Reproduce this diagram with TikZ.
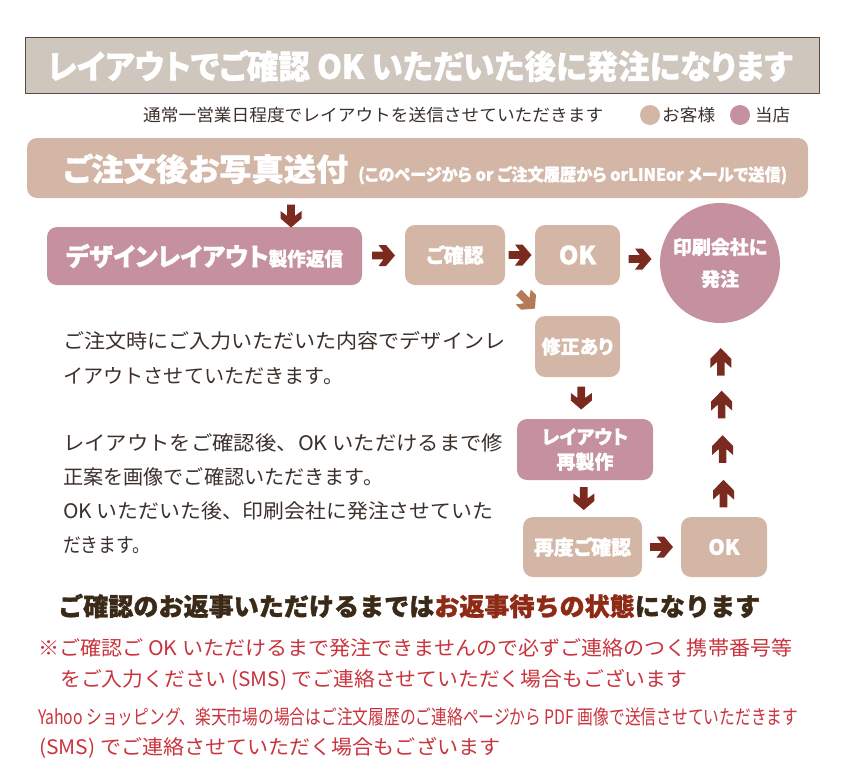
\documentclass[tikz,border=0pt]{standalone}
\usepackage{fontspec}
\setmainfont{Noto Sans CJK JP}
\newfontfamily\jpp{Noto Sans CJK JP}[RawFeature=+palt, BoldFeatures={FakeBold=1.2}]
\newfontfamily\jph{Noto Sans CJK JP}[BoldFeatures={FakeBold=1.2}]
\usetikzlibrary{calc}
\definecolor{titlefill}{HTML}{CFC6BD}
\definecolor{titleborder}{HTML}{5B4A42}
\definecolor{beige}{HTML}{D3B6A6}
\definecolor{pinkc}{HTML}{C5919F}
\definecolor{arrdark}{HTML}{7A2A1F}
\definecolor{arrlight}{HTML}{B47B5B}
\definecolor{textdark}{HTML}{3C302B}
\definecolor{boldbrown}{HTML}{3B2A18}
\definecolor{boldred}{HTML}{8E2B17}
\definecolor{redtext}{HTML}{C9333D}
\newcommand\fitw[2]{\resizebox{#1}{\height}{#2}}
\newcommand\fs[1]{\fontsize{#1}{#1}\selectfont}
\begin{document}
\begin{tikzpicture}[x=1pt,y=-1pt,
  flowbox/.style={rounded corners=10pt, inner sep=0pt, text=white, font=\jpp\bfseries},
  txt/.style={inner sep=0pt, anchor=west},
  pics/blockarr/.style={code={\fill (-11.5,-3.8) -- (0,-3.8) -- (-5,-10.5) -- (2.5,-10.5) -- (11.5,0) -- (2.5,10.5) -- (-5,10.5) -- (0,3.8) -- (-11.5,3.8) -- cycle;}}
]
\useasboundingbox (0,0) rectangle (842,779);

% title banner
\node[draw=titleborder, line width=0.8pt, fill=titlefill, minimum width=794, minimum height=56, inner sep=0pt] (title) at (422,65) {};
\node[inner sep=0pt, text=white] (titletxt) at (420,66) {\fitw{745pt}{\jpp\fs{33}\bfseries レイアウトでご確認 OK いただいた後に発注になります}};

% subtitle and legend
\node[txt, text=textdark] (sub) at (143,115) {\fitw{460pt}{\fs{17}通常一営業日程度でレイアウトを送信させていただきます}};
\node[circle, fill=beige, minimum size=20, inner sep=0pt] (lc1) at (650,115) {};
\node[txt, text=textdark] (lt1) at (662,115) {\fitw{53pt}{\fs{17}お客様}};
\node[circle, fill=pinkc, minimum size=20, inner sep=0pt] (lc2) at (740,115) {};
\node[txt, text=textdark] (lt2) at (755,115) {\fitw{35pt}{\fs{17}当店}};

% photo banner
\node[flowbox, fill=beige, minimum width=781, minimum height=60] (banner) at (417.5,168) {};
\node[txt, text=white] (bannertxt) at (63,169) {\fitw{285pt}{\jpp\fs{31}\bfseries ご注文後お写真送付}\hspace{10pt}\fitw{429pt}{\jpp\fs{17}\bfseries (このページから or ご注文履歴から orLINEor メールで送信)}};

% flow nodes
\node[flowbox, fill=pinkc, minimum width=315, minimum height=58] (design) at (204.5,256) {\fitw{277pt}{\fs{25}デザインレイアウト\fs{19}製作返信}};
\node[flowbox, fill=beige, minimum width=100, minimum height=60] (kaku) at (455,255) {\fs{20}ご確認};
\node[flowbox, fill=beige, minimum width=85, minimum height=60] (ok1) at (577.5,255) {\fs{25}OK};
\node[circle, fill=pinkc, minimum size=120, inner sep=0pt, text=white, font={\jpp\bfseries\fontsize{19}{32}\selectfont}, align=center] (print) at (720,263) {印刷会社に\\発注};
\node[flowbox, fill=beige, minimum width=85, minimum height=61] (shusei) at (577.5,346.5) {\fs{19}修正あり};
\node[flowbox, fill=pinkc, minimum width=136, minimum height=61, align=center, font={\jpp\bfseries\fontsize{19}{25}\selectfont}] (relayout) at (585,449.5) {レイアウト\\再製作};
\node[flowbox, fill=beige, minimum width=119, minimum height=60] (saido) at (582.5,547) {\fs{20}再度ご確認};
\node[flowbox, fill=beige, minimum width=86, minimum height=60] (ok2) at (724,547) {\fs{21}OK};

% block arrows
\coordinate (a1) at (291,216);
\pic[rotate=-90, fill=arrdark] at (a1) {blockarr};
\pic[fill=arrdark] at ($(design.east)!0.5!(kaku.west)$) {blockarr};
\pic[fill=arrdark] at ($(kaku.east)!0.5!(ok1.west)$) {blockarr};
\pic[fill=arrdark] at ($(ok1.east)!0.5!(print.west)$) {blockarr};
\pic[rotate=-90, fill=arrdark] at ($(shusei.south)!0.5!(relayout.north)$) {blockarr};
\pic[rotate=-90, fill=arrdark] at ($(relayout.south)!0.5!(saido.north)$) {blockarr};
\pic[fill=arrdark] at ($(saido.east)!0.5!(ok2.west)$) {blockarr};
\foreach \f in {0.12,0.35,0.58,0.80}
  \pic[rotate=90, xscale=1.2, fill=arrdark] at ($(ok2.north)!\f!(print.south)$) {blockarr};
\pic[rotate=-45, fill=arrlight] at ($($(ok1.south west)!0.5!(shusei.north west)$)+(-8,0)$) {blockarr};

% paragraph
\begin{scope}[text=textdark]
\node[txt] (p1) at (63,341) {\fitw{442pt}{\fs{20}ご注文時にご入力いただいた内容でデザインレ}};
\node[txt] (p2) at (63,376) {\fitw{280pt}{\fs{20}イアウトさせていただきます。}};
\node[txt] (p3) at (63,443) {\fitw{440pt}{\fs{20}レイアウトをご確認後、OK いただけるまで修}};
\node[txt] (p4) at (63,477) {\fitw{320pt}{\fs{20}正案を画像でご確認いただきます。}};
\node[txt] (p5) at (63,511) {\fitw{430pt}{\fs{20}OK いただいた後、印刷会社に発注させていた}};
\node[txt] (p6) at (63,545) {\fitw{87pt}{\fs{20}だきます。}};
\end{scope}

% bottom notes
\node[txt] (bold) at (58,606) {\fitw{702pt}{\jph\fs{25}\bfseries\textcolor{boldbrown}{ご確認のお返事いただけるまでは}\textcolor{boldred}{お返事待ちの状態}\textcolor{boldbrown}{になります}}};
\begin{scope}[text=redtext]
\node[txt] (r1) at (38,648) {\fitw{754pt}{\fs{20}※ご確認ご OK いただけるまで発注できませんので必ずご連絡のつく携帯番号等}};
\node[txt] (r2) at (60,680) {\fitw{627pt}{\fs{20}をご入力ください (SMS) でご連絡させていただく場合もございます}};
\node[txt] (r3) at (38,717) {\fitw{760pt}{\fs{20}Yahoo ショッピング、楽天市場の場合はご注文履歴のご連絡ページから PDF 画像で送信させていただきます}};
\node[txt] (r4) at (39,748) {\fitw{461pt}{\fs{20}(SMS) でご連絡させていただく場合もございます}};
\end{scope}
\end{tikzpicture}
\end{document}
